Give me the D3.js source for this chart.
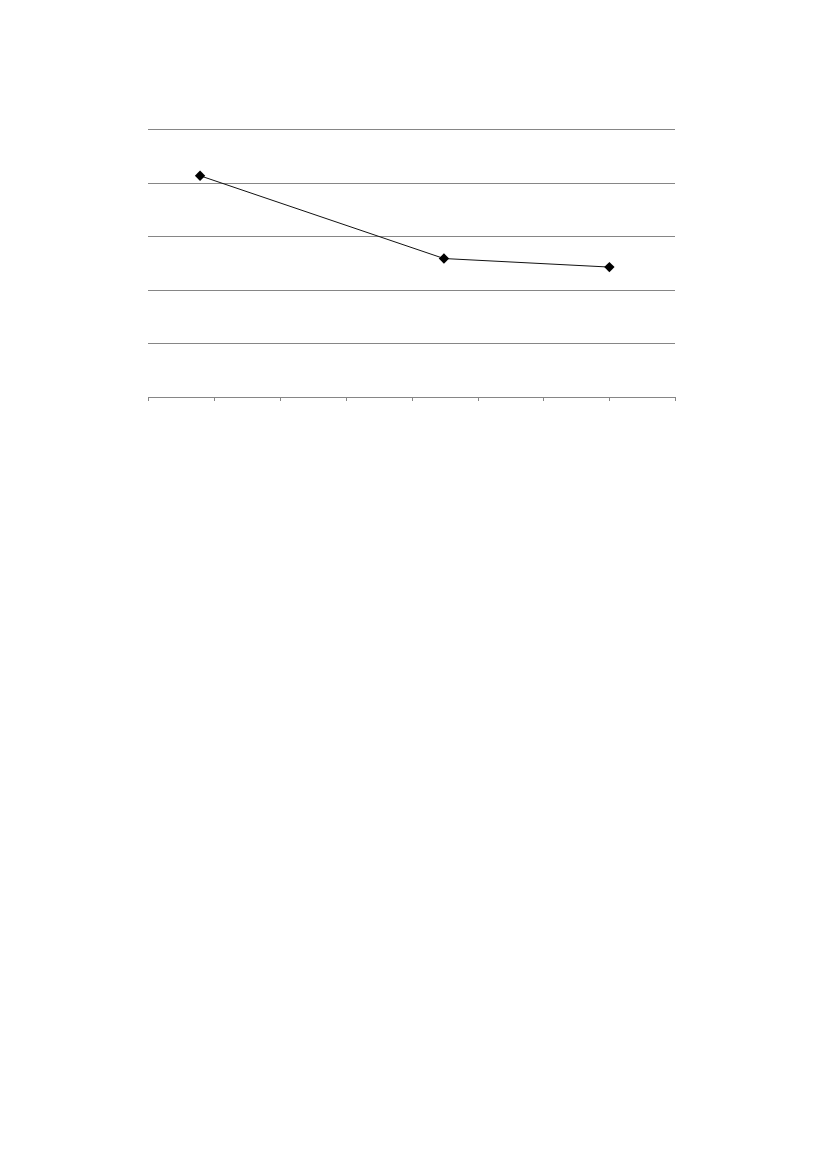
<!DOCTYPE html>
<html>
<head>
<meta charset="utf-8">
<script src="https://cdn.jsdelivr.net/npm/d3@7"></script>
<style>
  html, body { margin: 0; padding: 0; background: #fff; }
  svg { display: block; }
</style>
</head>
<body>
<svg id="chart"></svg>
<script>
// Single series line chart, no labels in the original

const xValues = [0.79, 4.49, 7.0];
const yValues = [4.13, 2.58, 2.42];
const xTicks = [0, 1, 2, 3, 4, 5, 6, 7, 8];
const yTicks = [1, 2, 3, 4, 5];

const width = 827, height = 1169;
const margin = { left: 148, right: 827 - 675.3, top: 129.3, bottom: 1169 - 396.3 };

const svg = d3.select('#chart')
  .attr('width', width)
  .attr('height', height);

const x = d3.scaleLinear()
  .domain([0, 8])
  .range([margin.left, width - margin.right]);

const y = d3.scaleLinear()
  .domain([0, 5])
  .range([height - margin.bottom, margin.top]);

// horizontal gridlines
svg.append('g')
  .attr('shape-rendering', 'crispEdges')
  .selectAll('line')
  .data(yTicks)
  .join('line')
    .attr('x1', x(0))
    .attr('x2', x(8))
    .attr('y1', d => Math.round(y(d)) + 0.5)
    .attr('y2', d => Math.round(y(d)) + 0.5)
    .attr('stroke', '#868686')
    .attr('stroke-width', 1);

// bottom axis
const axis = svg.append('g')
  .attr('shape-rendering', 'crispEdges')
  .attr('transform', `translate(0,${Math.round(y(0)) + 0.5})`)
  .call(d3.axisBottom(x).tickValues(xTicks).tickSize(4).tickSizeOuter(4).tickFormat(''));
axis.selectAll('path, line').attr('stroke', '#868686');

const points = xValues.map((v, i) => ({ x: v, y: yValues[i] }));

svg.append('path')
  .datum(points)
  .attr('fill', 'none')
  .attr('stroke', '#111')
  .attr('stroke-width', 1)
  .attr('d', d3.line().x(d => x(d.x)).y(d => y(d.y)));

svg.append('g')
  .selectAll('path')
  .data(points)
  .join('path')
    .attr('transform', d => `translate(${x(d.x)},${y(d.y)}) rotate(45)`)
    .attr('d', d3.symbol(d3.symbolSquare, 54))
    .attr('fill', '#000');
</script>
</body>
</html>
